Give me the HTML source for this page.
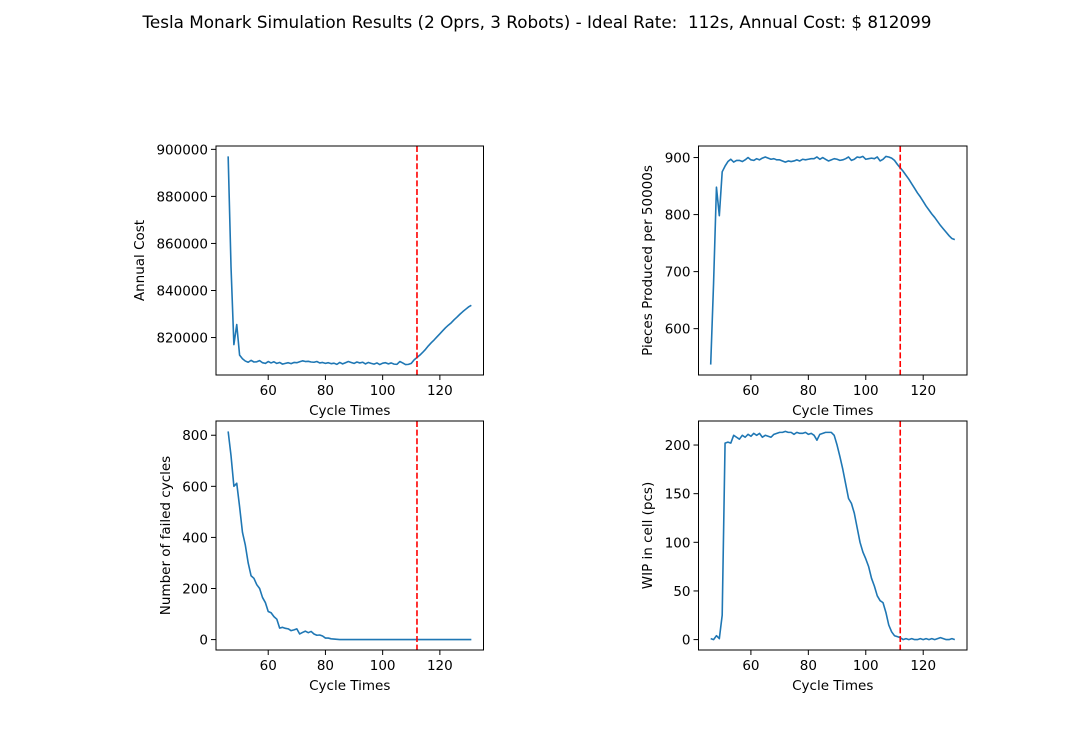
<!DOCTYPE html>
<html><head><meta charset="utf-8"><style>
body{margin:0;background:#fff}
svg{display:block;font-family:"DejaVu Sans","Liberation Sans",sans-serif}
</style></head><body>
<svg id="fig" width="1074" height="730" viewBox="0 0 1074 730">
<rect width="1074" height="730" fill="#fff"/>
<text x="537" y="28" font-size="16.8" text-anchor="middle" fill="#000" style="white-space:pre" xml:space="preserve">Tesla Monark Simulation Results (2 Oprs, 3 Robots) - Ideal Rate:  112s, Annual Cost: $ 812099</text>
</svg>
<script>
const xStart = 46;
const idealRate = 112;
const xTicks = [60, 80, 100, 120];
const costValues = [897000,850000,817000,825500,812500,811000,810000,809500,810300,809600,809700,810200,809300,809000,809800,809200,809700,809000,809400,808700,809000,809300,808900,809400,809300,809700,810100,809800,809900,809600,809500,809800,809200,809400,809000,809300,808900,809100,808600,809400,808800,809300,809800,809400,809000,809600,809200,809500,808800,809400,809000,808700,809200,808500,809100,809300,808800,809200,808700,808600,809800,809200,808500,808600,809000,810500,811500,812500,813700,815000,816500,817800,819000,820300,821600,822900,824200,825300,826300,827600,828700,829900,831000,832000,833000,833700];
const costTicks = [820000, 840000, 860000, 880000, 900000];
const piecesValues = [537,680,848,798,875,885,893,897,892,895,895,893,896,900,896,895,898,896,899,901,899,897,898,896,896,894,892,894,893,894,896,894,897,896,897,898,898,901,897,900,897,894,896,898,897,895,896,898,901,895,897,901,900,902,897,898,899,898,901,894,897,902,901,899,895,888,882,876,869,862,854,846,838,831,823,815,808,801,795,788,781,775,769,763,758,756];
const piecesTicks = [600, 700, 800, 900];
const failedValues = [815,720,600,612,520,420,370,300,250,240,215,200,165,145,110,105,90,80,45,48,44,42,35,38,42,22,28,33,27,32,22,17,18,14,6,6,3,2,1,0,0,0,0,0,0,0,0,0,0,0,0,0,0,0,0,0,0,0,0,0,0,0,0,0,0,0,0,0,0,0,0,0,0,0,0,0,0,0,0,0,0,0,0,0,0,0];
const failedTicks = [0, 200, 400, 600, 800];
const wipValues = [1,0,4,1,25,202,203,202,210,208,206,210,208,211,209,212,210,212,208,210,209,208,211,212,213,213,214,213,213,211,213,212,212,213,211,212,210,205,211,212,213,213,213,210,200,188,175,160,145,140,130,115,100,90,83,75,63,55,45,40,38,28,15,8,4,3,2,0,1,0,1,0,0,1,0,1,0,1,0,1,2,1,0,0,1,0];
const wipTicks = [0, 50, 100, 150, 200];

const NS = "http://www.w3.org/2000/svg";
const svg = document.getElementById('fig');
function mk(tag, attrs, parent){const e=document.createElementNS(NS,tag);for(const k in attrs)e.setAttribute(k,attrs[k]);(parent||svg).appendChild(e);return e;}

function panel(key, box, vals, yTicks, ylabel, ylabelX){
  const [L,T,R,B] = box;
  const g = mk('g',{});
  
  
  const xs = vals.map((v,i)=>xStart+i);
  const xmin=Math.min(...xs), xmax=Math.max(...xs), xm=(xmax-xmin)*0.05;
  const ymin=Math.min(...vals), ymax=Math.max(...vals), ym=(ymax-ymin)*0.05;
  const X = v => L + (v-(xmin-xm))/((xmax+xm)-(xmin-xm))*(R-L);
  const Y = v => B - (v-(ymin-ym))/((ymax+ym)-(ymin-ym))*(B-T);
  const d = vals.map((v,i)=>(i?'L':'M')+X(xs[i]).toFixed(2)+','+Y(v).toFixed(2)).join('');
  const line = mk('path',{d:d,fill:'none',stroke:'#1f77b4','stroke-width':1.6,'stroke-linejoin':'round'},g);
  
  
  const vl = mk('line',{x1:X(idealRate),x2:X(idealRate),y1:T,y2:B,stroke:'#ff0000','stroke-width':1.6,'stroke-dasharray':'6,2.6'},g);
  
  
  const fr = mk('rect',{x:L,y:T,width:R-L,height:B-T,fill:'none',stroke:'#000','stroke-width':1},g);
  
  
  xTicks.forEach(t=>{
    const x=X(t);
    mk('line',{x1:x,x2:x,y1:B,y2:B+5,stroke:'#000','stroke-width':1},g);
    const tx = mk('text',{x:x,y:B+20,'font-size':13.5,'text-anchor':'middle'},g);
    tx.textContent=t;
    
    
  });
  yTicks.forEach(t=>{
    const y=Y(t);
    mk('line',{x1:L-5,x2:L,y1:y,y2:y,stroke:'#000','stroke-width':1},g);
    const ty = mk('text',{x:L-8,y:y+5,'font-size':13.5,'text-anchor':'end'},g);
    ty.textContent=t;
    
    
  });
  const xl = mk('text',{x:(L+R)/2,y:B+40,'font-size':13.5,'text-anchor':'middle'},g);
  xl.textContent='Cycle Times';
  
  
  const yc=(T+B)/2;
  const yl = mk('text',{x:ylabelX,y:yc,'font-size':13.5,'text-anchor':'middle',transform:'rotate(-90 '+ylabelX+' '+yc+')'},g);
  yl.textContent=ylabel;
  
  
}
panel('annual-cost',[216,146,483.5,375],costValues,costTicks,'Annual Cost',144);
panel('pieces-produced',[698.5,146,967,375],piecesValues,piecesTicks,'Pieces Produced per 50000s',652);
panel('failed-cycles',[216,421,483.5,650],failedValues,failedTicks,'Number of failed cycles',170);
panel('wip',[698.5,421,967,650],wipValues,wipTicks,'WIP in cell (pcs)',652);
</script>
</body></html>
